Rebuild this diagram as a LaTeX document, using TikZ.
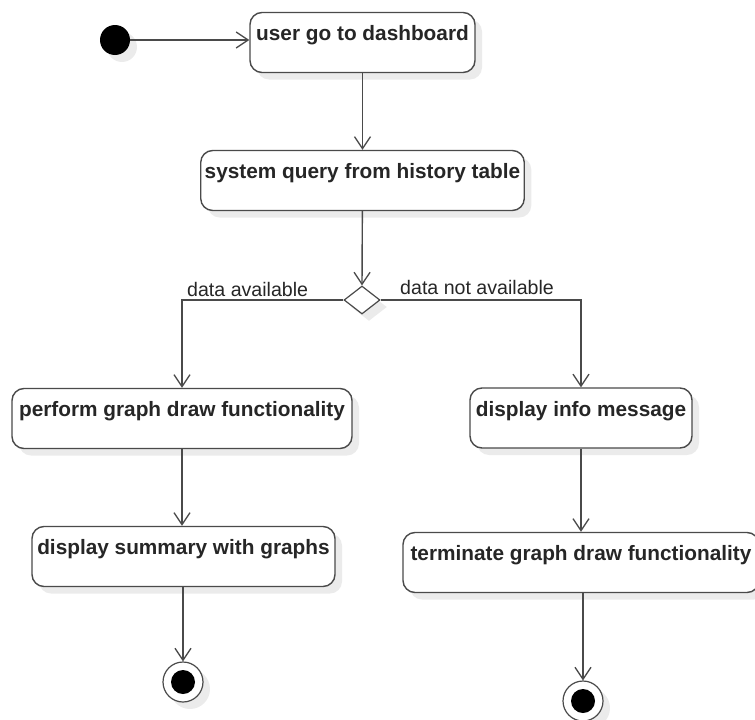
\documentclass[tikz,border=0pt]{standalone}
\usepackage{fontspec}
\setmainfont{Liberation Sans}
\usetikzlibrary{arrows.meta,shapes.geometric,shadows}
\definecolor{linegray}{HTML}{4A4A4A}
\definecolor{shadowgray}{HTML}{EBEBEB}
\begin{document}
\begin{tikzpicture}[x=1pt,y=-1pt,
  shade/.style={drop shadow={shadow xshift=7pt,shadow yshift=-7pt,fill=shadowgray,opacity=1}},
  action/.style={draw=linegray,line width=1.4pt,rounded corners=12pt,fill=white,shade,
    inner xsep=4pt,inner ysep=4pt,text height=24pt,text depth=28pt,
    font=\fontsize{20.8}{23}\selectfont\bfseries,text=black!85},
  decision/.style={diamond,draw=linegray,line width=1.2pt,fill=white,shade,
    minimum width=36pt,minimum height=28pt,inner sep=0pt},
  startnode/.style={circle,fill=black,minimum size=30pt,inner sep=0pt,shade},
  endring/.style={circle,draw=linegray,line width=1.2pt,fill=white,minimum size=40pt,inner sep=0pt,shade},
  flow/.style={draw=linegray,line width=1.4pt,-{Straight Barb[length=12pt,width=16pt,line width=1.3pt]}},
  guard/.style={font=\fontsize{19.6}{22}\selectfont,text=black!85,inner sep=0pt,anchor=base west}
]
\useasboundingbox (0,0) rectangle (755,720);

% initial node
\node[startnode] (start) at (115,40) {};

% actions
\node[action,minimum width=225pt] (dash) at (362.5,42.5) {user go to dashboard};
\node[action,minimum width=323pt] (query) at (362.5,180.5) {system query from history table};
\node[decision] (dec) at (362,300) {};
\node[action,minimum width=340pt] (perform) at (182,418.5) {perform graph draw functionality};
\node[action,minimum width=222pt] (info) at (581,418) {display info message};
\node[action,minimum width=303pt] (summary) at (183.5,556.5) {display summary with graphs};
\node[action,minimum width=356pt] (terminate) at (581,562.5) {terminate graph draw functionality};

% final nodes
\node[endring] (end1) at (183,682) {};
\fill[black] (end1.center) circle (12pt);
\node[endring] (end2) at (583,701) {};
\fill[black] (end2.center) circle (12pt);

% corners of the guarded branches
\coordinate (lcorner) at (182,300);
\coordinate (rcorner) at (581,300);

% control flow
\draw[flow] (start) -- (dash.west |- start);
\draw[flow] (dash) -- (query);
\draw[flow] (query) -- (dec.north);
\draw[flow] (dec.west) -- (lcorner) -- (perform.north -| lcorner);
\draw[flow] (dec.east) -- (rcorner) -- (info.north -| rcorner);
\draw[flow] (perform.south -| lcorner) -- (summary.north -| lcorner);
\draw[flow] (info) -- (terminate);
\draw[flow] (summary.south -| end1) -- (end1);
\draw[flow] (terminate.south -| end2) -- (end2);

% guards
\node[guard] (g1) at (187,296) {data available};
\node[guard] (g2) at (400,294) {data not available};
\end{tikzpicture}
\end{document}
